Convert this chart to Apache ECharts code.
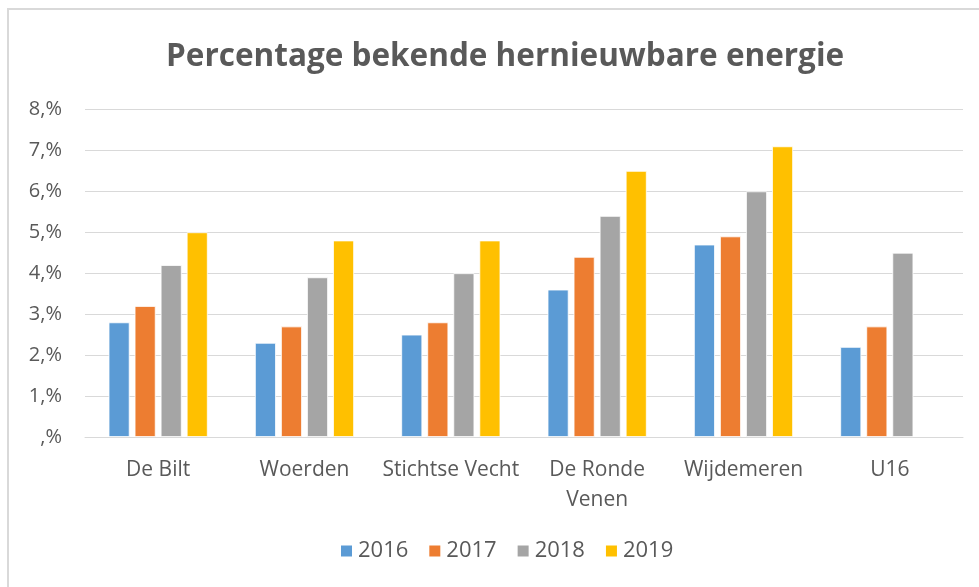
<!DOCTYPE html>
<html>
<head>
<meta charset="utf-8">
<script src="https://cdn.jsdelivr.net/npm/echarts@6/dist/echarts.min.js"></script>
<style>
  html, body { margin: 0; padding: 0; background: #fff; }
  #main { width: 979px; height: 587px; }
</style>
</head>
<body>
<div id="main"></div>
<script>
// gemeenten en jaren
var gemeenten = ['De Bilt', 'Woerden', 'Stichtse Vecht', 'De Ronde\nVenen', 'Wijdemeren', 'U16'];
var jaren = ['2016', '2017', '2018', '2019'];
var kleuren = ['#5b9bd5', '#ed7d31', '#a5a5a5', '#ffc000'];

// percentage per jaar
var data2016 = [2.8, 2.3, 2.5, 3.6, 4.7, 2.2];
var data2017 = [3.2, 2.7, 2.8, 4.4, 4.9, 2.7];
var data2018 = [4.2, 3.9, 4.0, 5.4, 6.0, 4.5];
var data2019 = [5.0, 4.8, 4.8, 6.5, 7.1, null];

var yTicks = [0, 1, 2, 3, 4, 5, 6, 7, 8];

var myChart = echarts.init(document.getElementById('main'));
var fontFam = '"Open Sans", "Noto Sans", sans-serif';
var tekst = '#595959';

var alleData = [data2016, data2017, data2018, data2019];
var series = jaren.map(function (jaar, i) {
    return {
        name: jaar,
        type: 'bar',
        data: alleData[i],
        barWidth: 21,
        barGap: '24%',
        itemStyle: { color: kleuren[i], borderColor: '#ffffff', borderWidth: 0.8 }
    };
});

var option = {
    animation: false,
    backgroundColor: '#ffffff',
    textStyle: { fontFamily: fontFam },
    graphic: [{
        type: 'rect',
        shape: { x: 8, y: 9, width: 1100, height: 1000 },
        style: { fill: 'none', stroke: '#d9d9d9', lineWidth: 2 },
        silent: true
    }],
    title: {
        text: 'Percentage bekende hernieuwbare energie',
        left: 161,
        top: 36,
        textStyle: { fontFamily: fontFam, fontSize: 31.5, fontWeight: 'bold', color: tekst }
    },
    legend: {
        bottom: 20,
        left: 334,
        icon: 'rect',
        itemWidth: 13,
        itemHeight: 13,
        itemGap: 19,
        textStyle: { fontFamily: fontFam, fontSize: 22, color: tekst },
        data: jaren
    },
    grid: { left: 85, right: 16, top: 109.5, bottom: 150, containLabel: false },
    xAxis: {
        type: 'category',
        data: gemeenten,
        axisTick: { show: false },
        axisLine: { lineStyle: { color: '#d9d9d9', width: 1 } },
        axisLabel: {
            interval: 0,
            margin: 18,
            fontFamily: fontFam,
            fontSize: 21,
            lineHeight: 30,
            color: tekst
        }
    },
    yAxis: {
        type: 'value',
        min: yTicks[0],
        max: yTicks[yTicks.length - 1],
        interval: 1,
        axisLine: { show: false },
        axisTick: { show: false },
        splitLine: { lineStyle: { color: '#d9d9d9', width: 1 } },
        axisLabel: {
            margin: 23,
            fontFamily: fontFam,
            fontSize: 20,
            color: tekst,
            formatter: function (v) { return (v === 0 ? '' : v) + ',%'; }
        }
    },
    series: series
};
myChart.setOption(option);
</script>
</body>
</html>
